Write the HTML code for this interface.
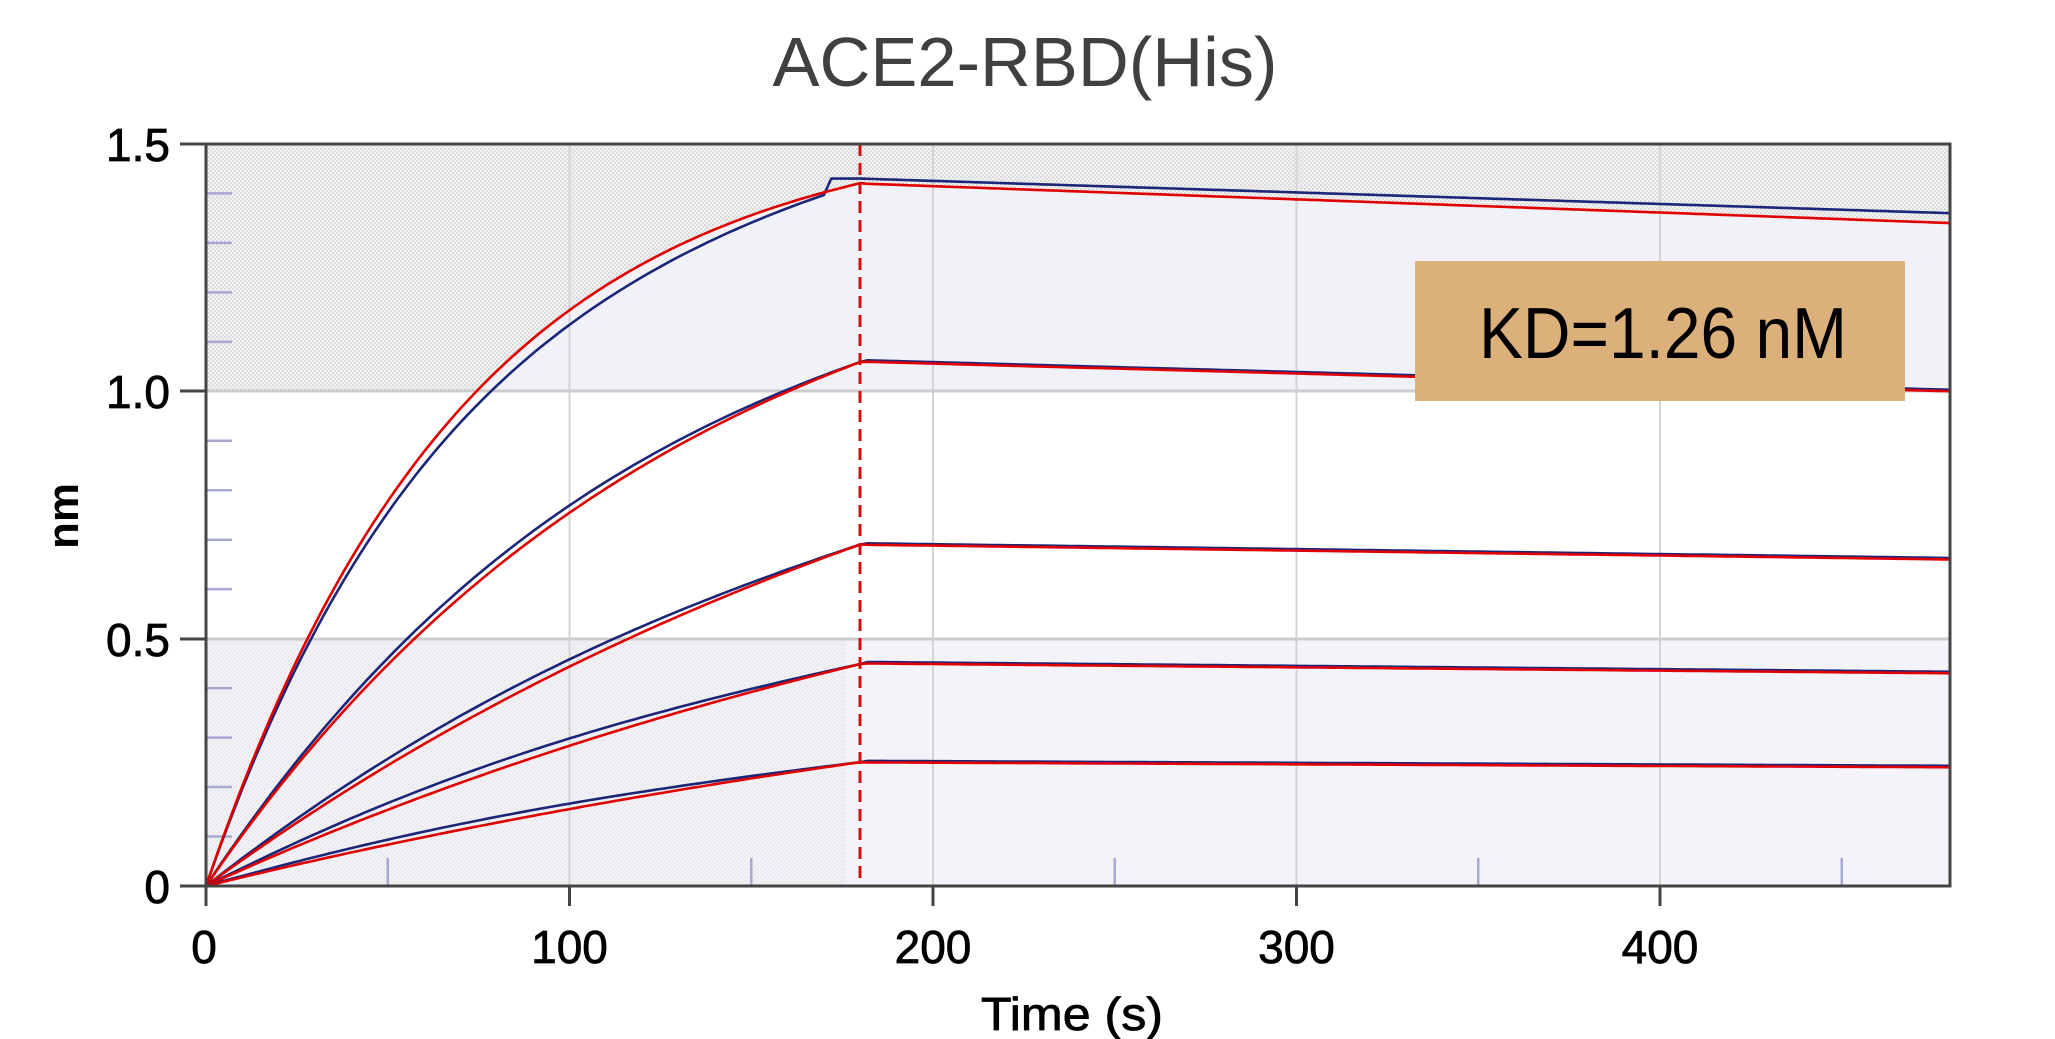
<!DOCTYPE html>
<html><head><meta charset="utf-8"><style>
html,body{margin:0;padding:0;background:#fff;}
svg{display:block;}
</style></head><body>
<svg id="s" width="2055" height="1039" viewBox="0 0 2055 1039" xmlns="http://www.w3.org/2000/svg" font-family="'Liberation Sans', Arial, sans-serif">
<defs>
<pattern id="dots" width="4" height="4" patternUnits="userSpaceOnUse">
<rect width="4" height="4" fill="#f4f4f4"/>
<rect width="2" height="2" fill="#d9d9d9"/>
<rect x="2" y="2" width="2" height="2" fill="#dedede"/>
</pattern>
</defs>
<text x="1025" y="86" font-size="70" fill="#404040" text-anchor="middle" textLength="505" lengthAdjust="spacingAndGlyphs">ACE2-RBD(His)</text>
<rect x="206" y="144" width="1744" height="247" fill="url(#dots)"/>
<path id="underTop" fill="#f1f1f8"/>
<rect x="206" y="391" width="1744" height="248" fill="#ffffff"/>
<rect x="206" y="639" width="1744" height="247" fill="#f3f3f9"/>
<rect x="206" y="639" width="640" height="247" fill="url(#dots)" opacity="0.35"/>
<g stroke="#d4d4d4" stroke-width="2">
<line x1="569.5" y1="144" x2="569.5" y2="886"/><line x1="933" y1="144" x2="933" y2="886"/>
<line x1="1296.5" y1="144" x2="1296.5" y2="886"/><line x1="1660" y1="144" x2="1660" y2="886"/>
</g>
<g stroke="#cdcdcd" stroke-width="3">
<line x1="206" y1="391" x2="1950" y2="391"/><line x1="206" y1="639" x2="1950" y2="639"/>
</g>
<g stroke="#a8a8d4" stroke-width="2.5" id="minor"></g>
<g id="curves" fill="none" stroke-width="2.6" stroke-linejoin="round"></g>
<line x1="860" y1="144" x2="860" y2="886" stroke="#d01010" stroke-width="3" stroke-dasharray="12,7"/>
<rect x="206" y="144" width="1744" height="742" fill="none" stroke="#444" stroke-width="3"/>
<g stroke="#444" stroke-width="3">
<line x1="180" y1="144" x2="206" y2="144"/><line x1="180" y1="391" x2="206" y2="391"/>
<line x1="180" y1="639" x2="206" y2="639"/><line x1="180" y1="886" x2="206" y2="886"/>
<line x1="206" y1="886" x2="206" y2="906"/><line x1="569.5" y1="886" x2="569.5" y2="906"/>
<line x1="933" y1="886" x2="933" y2="906"/><line x1="1296.5" y1="886" x2="1296.5" y2="906"/>
<line x1="1660" y1="886" x2="1660" y2="906"/>
</g>
<g font-size="46" fill="#000" stroke="#000" stroke-width="0.8" text-anchor="end">
<text x="170" y="161">1.5</text><text x="170" y="408">1.0</text>
<text x="170" y="656">0.5</text><text x="170" y="903">0</text>
</g>
<g font-size="46" fill="#000" stroke="#000" stroke-width="0.8" text-anchor="middle">
<text x="204" y="963">0</text><text x="569.5" y="963">100</text><text x="933" y="963">200</text>
<text x="1296.5" y="963">300</text><text x="1660" y="963">400</text>
</g>
<text x="1072" y="1030" font-size="46" fill="#000" stroke="#000" stroke-width="0.8" text-anchor="middle" textLength="182" lengthAdjust="spacingAndGlyphs">Time (s)</text>
<text transform="translate(78,516) rotate(-90)" font-size="44" fill="#000" text-anchor="middle" font-weight="bold">nm</text>
<rect x="1415" y="261" width="490" height="140" fill="#dcb07a"/>
<text x="1663" y="358" font-size="72" fill="#000" text-anchor="middle" textLength="368" lengthAdjust="spacingAndGlyphs">KD=1.26 nM</text>
</svg>
<script>
var X=function(t){return 206+t*3.635;}, Y=function(v){return 886-v*494.7;};
var sets=[[1.545,0.014,1.42,1.34,0.012],[1.43,0.0075,1.06,1.0,0.02],[1.345,0.004,0.69,0.66,0.02],[0.96,0.0035,0.45,0.43,0.02],[0.6,0.003,0.25,0.24,0.015]];
var g=document.getElementById('curves'),ns='http://www.w3.org/2000/svg';
function path(d,c){var p=document.createElementNS(ns,'path');p.setAttribute('d',d);p.setAttribute('stroke',c);g.appendChild(p);}
var topUnder='';
sets.forEach(function(s,i){
 var R=s[0],k=s[1],pk=s[2],end=s[3],b=s[4];
 var red='',blue='';
 for(var t=0;t<=480;t+=2){
  var v,vb;
  if(t<=180){v=R*(1-Math.exp(-k*t));
   var bump=(i==0)?-0.03*Math.sin(Math.PI*t/180):b*Math.sin(Math.PI*t/180)*(1-t/400);
   vb=v+bump;
   if(i==0&&t>=172)vb=pk+0.01;}
  else{var f=(t-180)/300;v=pk-(pk-end)*f;vb=v+(i==0?0.01*(1+f):0.003);}
  red+=(t?'L':'M')+X(t).toFixed(1)+','+Y(v).toFixed(1);
  blue+=(t?'L':'M')+X(t).toFixed(1)+','+Y(vb).toFixed(1);
  if(i==0)topUnder+=(t?'L':'M')+X(t).toFixed(1)+','+Math.max(144,Math.min(391,Y(v))).toFixed(1);
 }
 path(blue,'#1c2678');path(red,'#e00000');
});
document.getElementById('underTop').setAttribute('d',topUnder+'L1950,391L206,391Z');
var m=document.getElementById('minor'),s='';
[0.1,0.2,0.3,0.4,0.6,0.7,0.8,0.9,1.1,1.2,1.3,1.4].forEach(function(v){s+='<line x1="207" x2="232" y1="'+Y(v)+'" y2="'+Y(v)+'"/>';});
[50,150,250,350,450].forEach(function(t){s+='<line x1="'+X(t)+'" x2="'+X(t)+'" y1="858" y2="885"/>';});
m.innerHTML=s;
</script>
</body></html>
